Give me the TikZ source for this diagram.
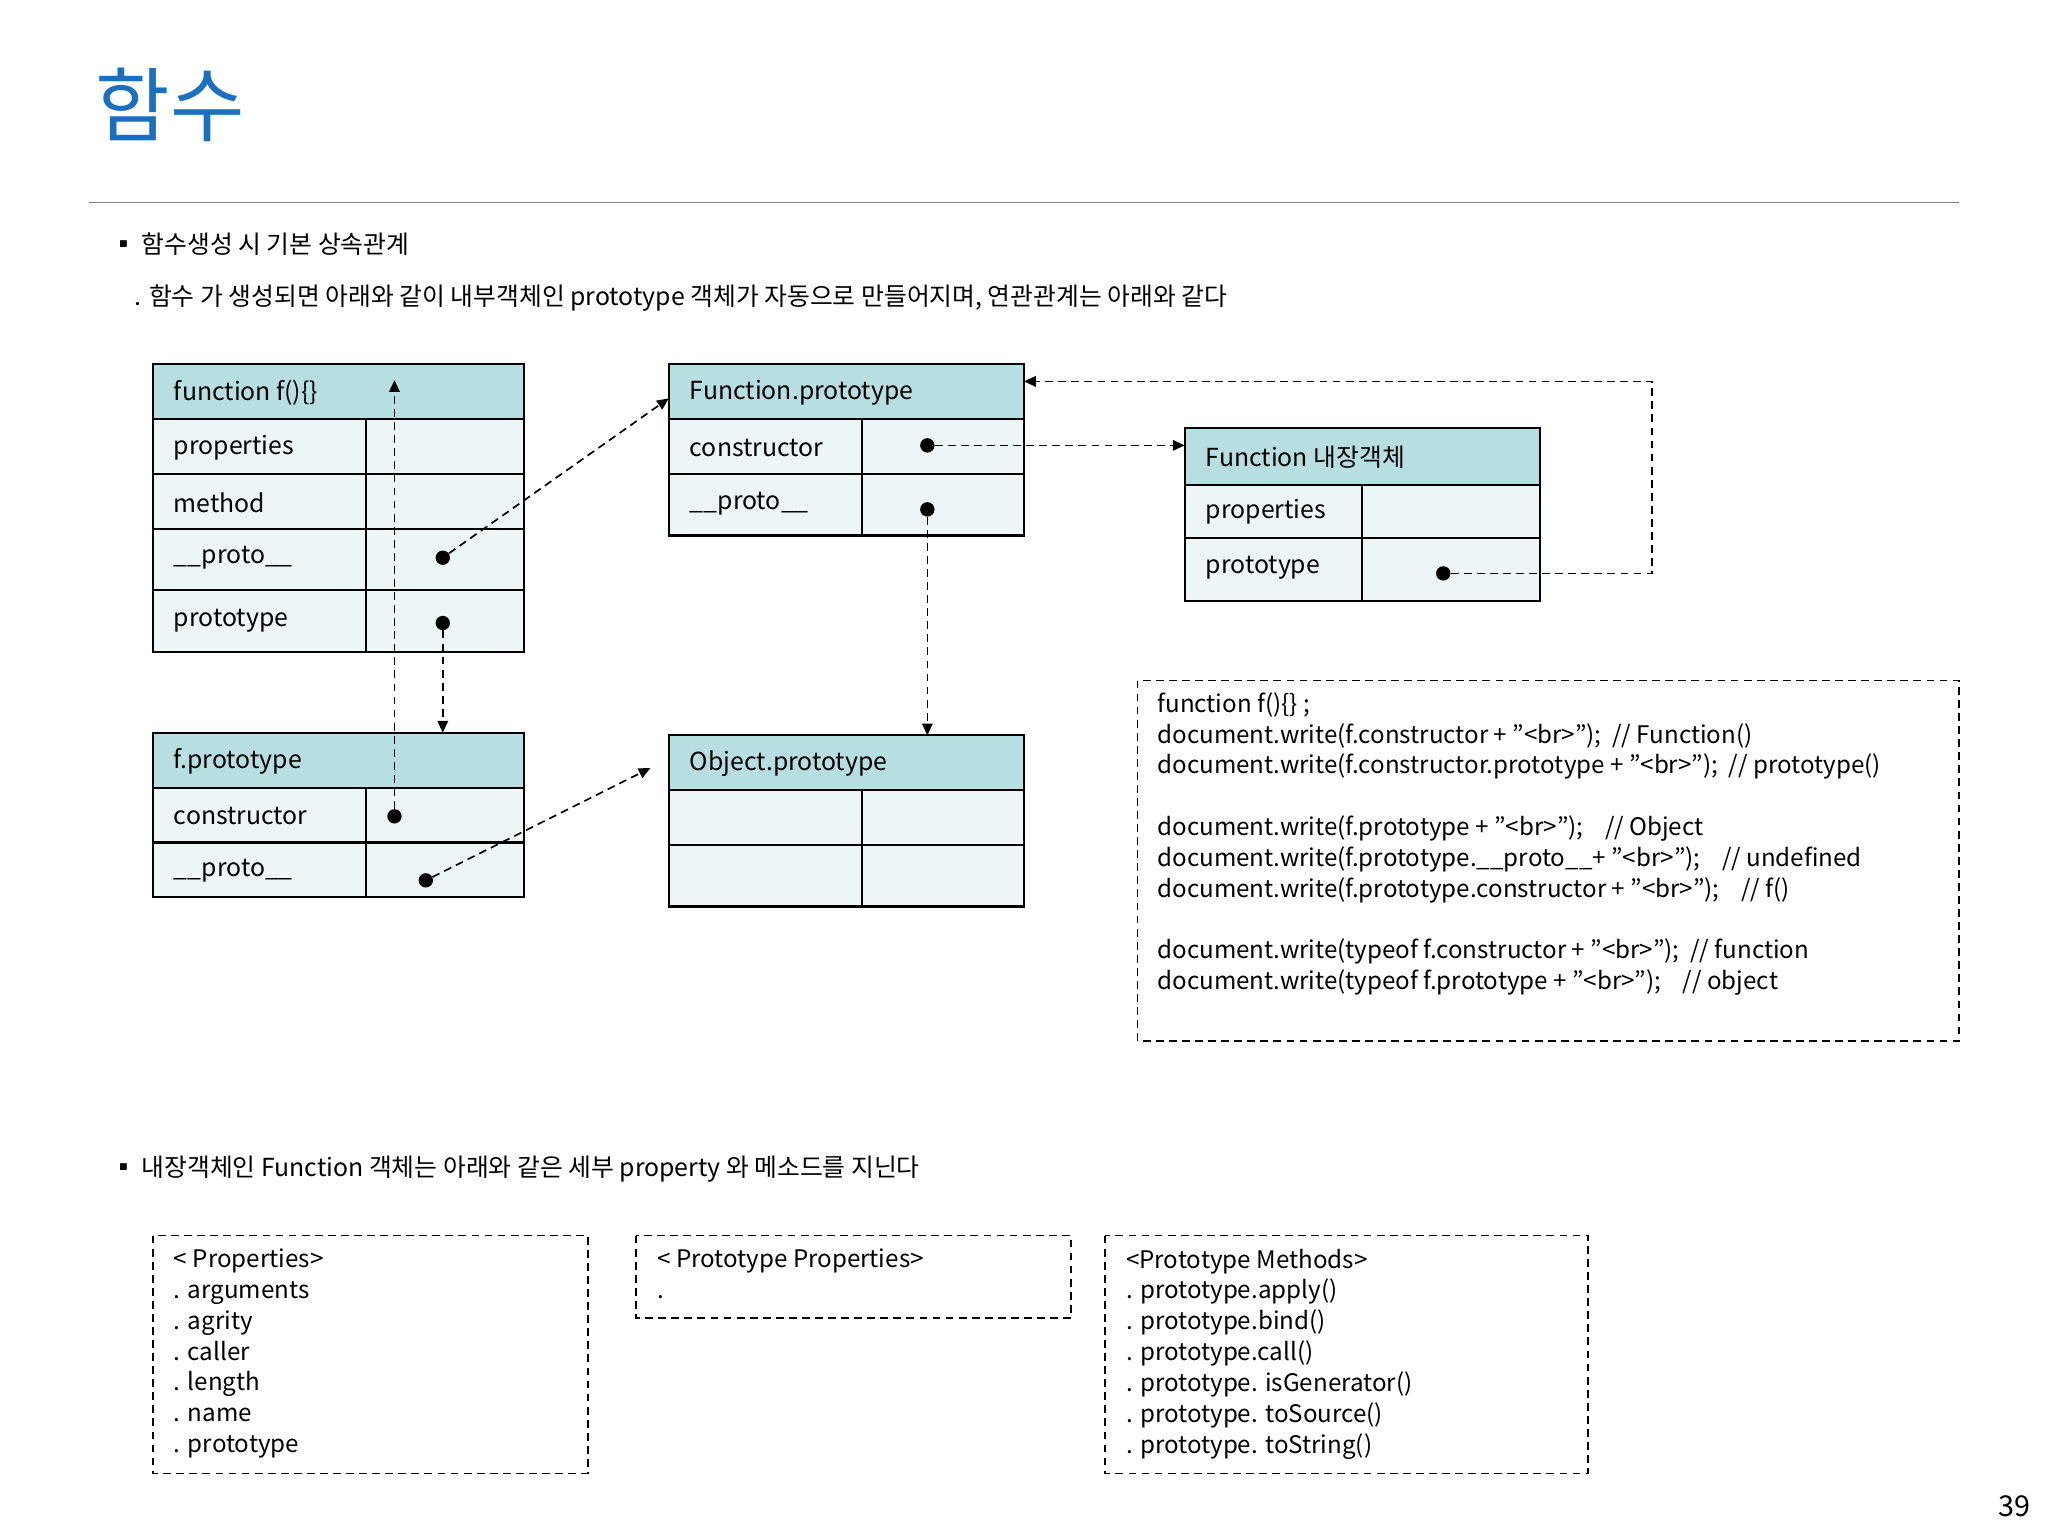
\documentclass[tikz,border=0pt]{standalone}
\usepackage{fontspec}
\setmainfont{Noto Sans CJK KR}
\usetikzlibrary{arrows.meta}
\definecolor{hdr}{HTML}{B7DEE1}
\definecolor{rowc}{HTML}{EDF5F7}
\definecolor{ttl}{HTML}{1A6FC0}
\tikzset{
 lbl/.style={anchor=west,inner sep=0pt,font=\fontsize{19}{22}\selectfont},
 dot/.style={circle,fill=black,inner sep=0pt,minimum size=11pt},
 conn/.style={dashed,line width=1.3pt,-{Triangle[length=9pt,width=8pt]},dash pattern=on 6pt off 4pt},
 dbox/.style={draw,dashed,line width=1.2pt,dash pattern=on 6pt off 4pt},
 cell/.style={draw,line width=1.6pt}
}
\newcommand{\ubox}[5]{% x1,x2,div,ytop,header ; rows given separately
}
\begin{document}
\begin{tikzpicture}[x=1pt,y=-1pt]
\useasboundingbox (0,0) rectangle (1568,1176);
\node[anchor=west,inner sep=0pt,text=ttl,font=\fontsize{62}{70}\selectfont] (title) at (73,80) {함수};
\draw[gray,line width=1.2pt] (68,155) -- (1500,155);
\node[lbl] (b1) at (85,187) {▪ 함수생성 시 기본 상속관계};
\node[lbl] (b1t) at (103,228) {. 함수 가 생성되면 아래와 같이 내부객체인 prototype 객체가 자동으로 만들어지며, 연관관계는 아래와 같다};
% Box A
\fill[hdr] (117,279) rectangle (401,321);
\fill[rowc] (117,321) rectangle (401,499);
\draw[cell] (117,279) rectangle (401,499);
\foreach \y in {321,363,405,452} \draw[cell] (117,\y) -- (401,\y);
\draw[cell] (280,321) -- (280,499);
\node[lbl] (a0) at (133,301) {function f()\{\}};
\node[lbl] (a1) at (133,343) {properties};
\node[lbl] (a2) at (133,385) {method};
\node[lbl] (a3) at (133,427) {\_\_proto\_\_};
\node[lbl] (a4) at (133,475) {prototype};
% Box B
\fill[hdr] (512,279) rectangle (784,321);
\fill[rowc] (512,321) rectangle (784,410);
\draw[cell] (512,279) rectangle (784,410);
\foreach \y in {321,363} \draw[cell] (512,\y) -- (784,\y);
\draw[cell] (660,321) -- (660,410);
\node[lbl] (bb0) at (528,301) {Function.prototype};
\node[lbl] (bb1) at (528,343) {constructor};
\node[lbl] (bb2) at (528,386) {\_\_proto\_\_};
% Box C
\fill[hdr] (907,328) rectangle (1179,371);
\fill[rowc] (907,371) rectangle (1179,460);
\draw[cell] (907,328) rectangle (1179,460);
\foreach \y in {371,412} \draw[cell] (907,\y) -- (1179,\y);
\draw[cell] (1043,371) -- (1043,460);
\node[lbl] (c0) at (923,350) {Function 내장객체};
\node[lbl] (c1) at (923,392) {properties};
\node[lbl] (c2) at (923,435) {prototype};
% Box D
\fill[hdr] (117,561) rectangle (401,603);
\fill[rowc] (117,603) rectangle (401,687);
\draw[cell] (117,561) rectangle (401,687);
\foreach \y in {603,645} \draw[cell] (117,\y) -- (401,\y);
\draw[cell] (280,603) -- (280,687);
\node[lbl] (d0) at (133,583) {f.prototype};
\node[lbl] (d1) at (133,625) {constructor};
\node[lbl] (d2) at (133,667) {\_\_proto\_\_};
% Box E
\fill[hdr] (512,563) rectangle (784,605);
\fill[rowc] (512,605) rectangle (784,694);
\draw[cell] (512,563) rectangle (784,694);
\foreach \y in {605,647} \draw[cell] (512,\y) -- (784,\y);
\draw[cell] (660,605) -- (660,694);
\node[lbl] (e0) at (528,585) {Object.prototype};
% dots
\node[dot] (p1) at (339,427) {};
\node[dot] (p2) at (339,477) {};
\node[dot] (p3) at (302,625) {};
\node[dot] (p4) at (326,674) {};
\node[dot] (p5) at (710,341) {};
\node[dot] (p6) at (710,390) {};
\node[dot] (p7) at (1105,439) {};
\coordinate (t1) at (512,305);
\coordinate (t2) at (339,561);
\coordinate (t3) at (302,291);
\coordinate (t4) at (498,588);
\coordinate (t5) at (907,341);
\coordinate (t6) at (710,563);
\coordinate (t7) at (784,292);
\draw[conn] (p1) -- (t1);
\draw[conn] (p2) -- (t2);
\draw[conn] (p3) -- (t3);
\draw[conn] (p4) -- (t4);
\draw[conn] (p5) -- (t5);
\draw[conn] (p6) -- (t6);
\draw[conn] (p7) -- (1265,439) -- (1265,292) -- (t7);
% code box
\draw[dbox] (871,521) rectangle (1500,797);
\node[anchor=north west,inner sep=0pt,font=\fontsize{18.5}{23.6}\selectfont,align=left] (code) at (886,530) {function f()\{\} ;\\
document.write(f.constructor + "<br>");\ \ // Function()\\
document.write(f.constructor.prototype + "<br>");\ \ // prototype()\\[23.6pt]
document.write(f.prototype + "<br>");\ \ \ \ // Object\\
document.write(f.prototype.\_\_proto\_\_+ "<br>");\ \ \ \ // undefined\\
document.write(f.prototype.constructor + "<br>");\ \ \ \ // f()\\[23.6pt]
document.write(typeof f.constructor + "<br>");\ \ // function\\
document.write(typeof f.prototype + "<br>");\ \ \ \ // object};
\node[lbl] (b2) at (85,895) {▪ 내장객체인 Function 객체는 아래와 같은 세부 property 와 메소드를 지닌다};
\draw[dbox] (117,946) rectangle (450,1128);
\draw[dbox] (487,946) rectangle (820,1009);
\draw[dbox] (846,946) rectangle (1216,1128);
\node[anchor=north west,inner sep=0pt,font=\fontsize{18.5}{23.6}\selectfont,align=left] (l1) at (133,956) {< Properties>\\. arguments\\. agrity\\. caller\\. length\\. name\\. prototype};
\node[anchor=north west,inner sep=0pt,font=\fontsize{18.5}{23.6}\selectfont,align=left] (l2) at (503,956) {< Prototype Properties>\\.};
\node[anchor=north west,inner sep=0pt,font=\fontsize{18.5}{23.6}\selectfont,align=left] (l3) at (862,956) {<Prototype Methods>\\. prototype.apply()\\. prototype.bind()\\. prototype.call()\\. prototype. isGenerator()\\. prototype. toSource()\\. prototype. toString()};
\node[anchor=east,inner sep=0pt,font=\fontsize{22}{26}\selectfont] (pg) at (1555,1153) {39};
\end{tikzpicture}
\end{document}
